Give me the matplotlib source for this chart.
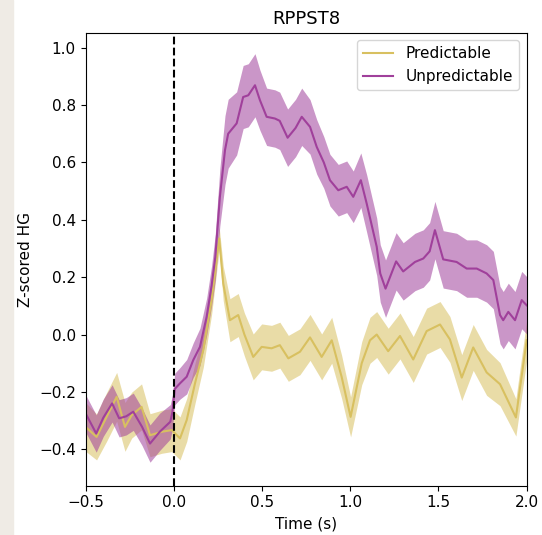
import numpy as np
import matplotlib
matplotlib.use("Agg")
import matplotlib.pyplot as plt
from matplotlib.patches import Rectangle

# unpredictable condition: time (s), mean, half-width of shaded band
t_unpred = [-0.5, -0.47, -0.44, -0.40, -0.35, -0.31, -0.27, -0.23, -0.18, -0.135,
            -0.08, -0.02, -0.008, 0.005, 0.035, 0.073, 0.11, 0.148, 0.186, 0.214,
            0.235, 0.261, 0.29, 0.308, 0.356, 0.393, 0.422, 0.46, 0.488, 0.526,
            0.573, 0.60, 0.645, 0.69, 0.725, 0.772, 0.81, 0.85, 0.885, 0.932,
            0.98, 1.017, 1.06, 1.093, 1.15, 1.17, 1.2, 1.26, 1.30, 1.367,
            1.414, 1.45, 1.48, 1.527, 1.603, 1.66, 1.717, 1.773, 1.811, 1.849,
            1.867, 1.896, 1.934, 1.972, 2.0]
m_unpred = [-0.275, -0.31, -0.345, -0.29, -0.24, -0.292, -0.285, -0.269, -0.322, -0.38,
            -0.339, -0.304, -0.27, -0.19, -0.17, -0.147, -0.089, -0.043, 0.062, 0.17,
            0.27, 0.48, 0.643, 0.70, 0.736, 0.828, 0.834, 0.869, 0.817, 0.759,
            0.753, 0.745, 0.686, 0.72, 0.759, 0.724, 0.654, 0.6, 0.538, 0.503,
            0.515, 0.48, 0.538, 0.457, 0.306, 0.213, 0.16, 0.255, 0.22, 0.253,
            0.265, 0.29, 0.364, 0.262, 0.253, 0.23, 0.23, 0.213, 0.19, 0.068,
            0.05, 0.079, 0.05, 0.12, 0.102]
h_unpred = [0.065, 0.065, 0.065, 0.065, 0.065, 0.065, 0.065, 0.065, 0.065, 0.065,
            0.065, 0.06, 0.06, 0.055, 0.055, 0.06, 0.06, 0.065, 0.065, 0.07,
            0.08, 0.1, 0.12, 0.12, 0.11, 0.11, 0.11, 0.11, 0.105, 0.1,
            0.1, 0.1, 0.1, 0.1, 0.1, 0.095, 0.095, 0.09, 0.09, 0.09,
            0.09, 0.09, 0.095, 0.1, 0.1, 0.1, 0.1, 0.1, 0.1, 0.1,
            0.1, 0.1, 0.1, 0.1, 0.1, 0.1, 0.1, 0.1, 0.1, 0.1,
            0.1, 0.1, 0.1, 0.1, 0.1]

# predictable condition
t_pred = [-0.5, -0.438, -0.381, -0.324, -0.277, -0.239, -0.183, -0.135, -0.069, -0.012,
          0.035, 0.073, 0.12, 0.167, 0.214, 0.257, 0.28, 0.318, 0.365, 0.40,
          0.45, 0.498, 0.554, 0.601, 0.649, 0.715, 0.772, 0.838, 0.895, 0.951,
          1.002, 1.065, 1.112, 1.15, 1.215, 1.282, 1.357, 1.433, 1.509, 1.565,
          1.632, 1.697, 1.773, 1.849, 1.939, 2.0]
m_pred = [-0.322, -0.357, -0.287, -0.217, -0.322, -0.281, -0.252, -0.351, -0.339, -0.333,
          -0.362, -0.298, -0.17, -0.054, 0.12, 0.335, 0.178, 0.05, 0.068, 0.0,
          -0.078, -0.043, -0.048, -0.037, -0.083, -0.06, -0.01, -0.078, -0.02, -0.147,
          -0.287, -0.10, -0.02, 0.0, -0.058, -0.005, -0.087, 0.012, 0.035, -0.017,
          -0.15, -0.045, -0.132, -0.173, -0.289, -0.02]
h_pred = [0.085, 0.08, 0.085, 0.085, 0.085, 0.08, 0.08, 0.075, 0.075, 0.075,
          0.075, 0.075, 0.07, 0.06, 0.05, 0.04, 0.06, 0.075, 0.075, 0.075,
          0.08, 0.08, 0.08, 0.08, 0.08, 0.08, 0.08, 0.08, 0.08, 0.075,
          0.07, 0.075, 0.08, 0.08, 0.08, 0.08, 0.08, 0.08, 0.08, 0.08,
          0.08, 0.08, 0.08, 0.075, 0.065, 0.07]

labels = ["Predictable", "Unpredictable"]
colors = ["#d8c060", "#a0409b"]

plt.rcParams["font.size"] = 11

fig = plt.figure(figsize=(5.42, 5.35), dpi=100)
# light strip at left edge of the screenshot
fig.patches.append(Rectangle((0, 0), 13 / 542, 1, transform=fig.transFigure,
                             color="#efebe5", zorder=-1))
ax = fig.add_axes([0.158, 0.0921, 0.8137, 0.8467])

for t, m, h, lab, c in [(t_pred, m_pred, h_pred, labels[0], colors[0]),
                        (t_unpred, m_unpred, h_unpred, labels[1], colors[1])]:
    t = np.array(t)
    m = np.array(m)
    h = np.array(h)
    ax.fill_between(t, m - h, m + h, color=c, alpha=0.55, linewidth=0)
    ax.plot(t, m, color=c, lw=1.5, label=lab)

ax.axvline(0, color="k", ls="--", lw=1.5)
ax.set_xlim(-0.5, 2.0)
ax.set_ylim(-0.527, 1.052)
ax.set_xticks([-0.5, 0.0, 0.5, 1.0, 1.5, 2.0])
ax.set_yticks([-0.4, -0.2, 0.0, 0.2, 0.4, 0.6, 0.8, 1.0])
ax.set_xlabel("Time (s)")
ax.set_ylabel("Z-scored HG")
ax.set_title("RPPST8", fontsize=13)
ax.legend(loc="upper right")

fig.savefig("out.png", dpi=100)
